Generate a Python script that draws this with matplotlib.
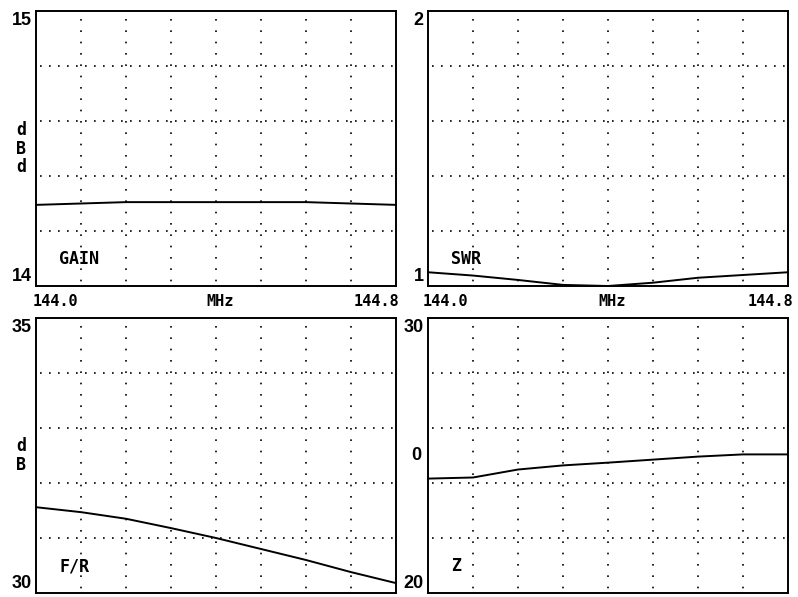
import matplotlib
matplotlib.use("Agg")
import matplotlib.pyplot as plt

# frequency sweep, MHz
freq = [144.0, 144.1, 144.2, 144.3, 144.4, 144.5, 144.6, 144.7, 144.8]

# values
gain = [14.295, 14.300, 14.305, 14.305, 14.305, 14.305, 14.305, 14.300, 14.295]
swr = [1.050, 1.038, 1.022, 1.004, 1.000, 1.012, 1.030, 1.040, 1.050]
fr = [31.56, 31.47, 31.35, 31.18, 31.00, 30.80, 30.60, 30.38, 30.18]
z = [24.16, 24.20, 24.49, 24.64, 24.74, 24.85, 24.96, 25.04, 25.04]

panel_names = ["GAIN", "SWR", "F/R", "Z"]
y_limits = [(14, 15), (1, 2), (30, 35), (20, 30)]
y_top_labels = ["15", "2", "35", "30"]
y_bottom_labels = ["14", "1", "30", "20"]
y_mid_labels = ["", "", "", "0"]
unit_labels = ["d\nB\nd", "", "d\nB", ""]
x_labels = ["144.0", "MHz", "144.8"]

MONO = "DejaVu Sans Mono"
NUM = "Liberation Sans"

W, H = 798, 597
fig = plt.figure(figsize=(W / 100, H / 100), dpi=100)
fig.patch.set_facecolor("white")

# panel boxes in pixels: left, top, right, bottom
boxes = [(36, 11, 396, 286), (428, 11, 788, 286),
         (36, 318, 396, 593), (428, 318, 788, 593)]
series = [gain, swr, fr, z]

for i, (l, t, r, b) in enumerate(boxes):
    ax = fig.add_axes([l / W, (H - b) / H, (r - l) / W, (b - t) / H])
    lo, hi = y_limits[i]
    ax.set_xlim(freq[0], freq[-1])
    ax.set_ylim(lo, hi)
    ax.set_xticks([])
    ax.set_yticks([])
    for sp in ax.spines.values():
        sp.set_linewidth(1.4)
        sp.set_color("black")

    # dotted grid: 8 columns, 5 rows
    for k in range(1, 8):
        ax.axvline(freq[0] + k * (freq[-1] - freq[0]) / 8, color="black",
                   lw=1.2, ls=(4, (1, 5.8)), zorder=1)
    for k in range(1, 5):
        ax.axhline(lo + k * (hi - lo) / 5, color="black",
                   lw=1.2, ls=(3, (1, 4.4)), zorder=1)

    ax.plot(freq, series[i], color="black", lw=1.4, zorder=3, clip_on=False)

    ax.text(0.065, 0.065, panel_names[i], transform=ax.transAxes,
            ha="left", va="bottom", fontsize=12, fontweight="bold",
            family=MONO)

    ax.text(-0.012, 0.997, y_top_labels[i], transform=ax.transAxes,
            ha="right", va="top", fontsize=13, fontweight="bold", family=NUM)
    ax.text(-0.012, 0.003, y_bottom_labels[i], transform=ax.transAxes,
            ha="right", va="bottom", fontsize=13, fontweight="bold", family=NUM)
    if y_mid_labels[i]:
        ax.text(-0.018, 0.5, y_mid_labels[i], transform=ax.transAxes,
                ha="right", va="center", fontsize=13, fontweight="bold",
                family=NUM)
    if unit_labels[i]:
        ax.text(-0.028, 0.5, unit_labels[i], transform=ax.transAxes,
                ha="right", va="center", fontsize=12, fontweight="bold",
                family=MONO, linespacing=1.05)

# frequency labels between the rows
label_y = (H - 302) / H
for x0, x1 in [(33, 399), (423, 793)]:
    fig.text(x0 / W, label_y, x_labels[0], ha="left", va="center",
             fontsize=11, fontweight="bold", family=MONO)
    fig.text((x0 + x1) / 2 / W + 0.005, label_y, x_labels[1], ha="center",
             va="center", fontsize=11, fontweight="bold", family=MONO)
    fig.text(x1 / W, label_y, x_labels[2], ha="right", va="center",
             fontsize=11, fontweight="bold", family=MONO)

fig.savefig("out.png", dpi=100)
